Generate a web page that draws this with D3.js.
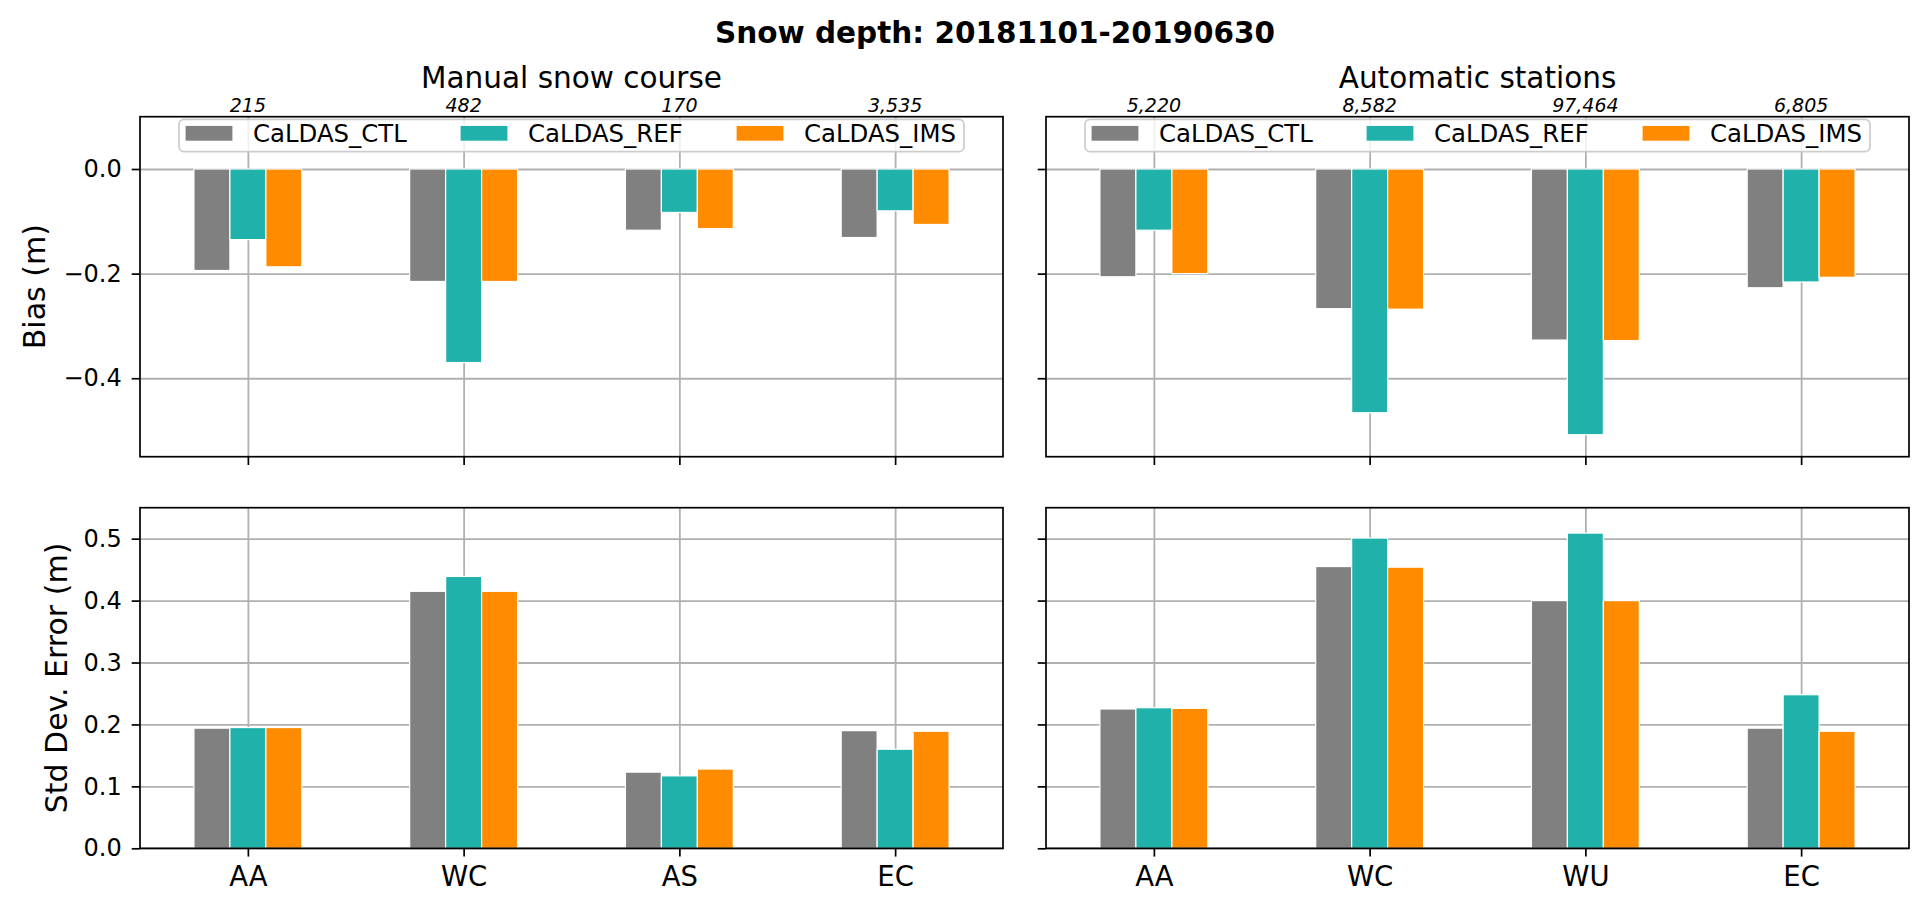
<!DOCTYPE html>
<html>
<head>
<meta charset="utf-8">
<script src="https://cdn.jsdelivr.net/npm/d3@7"></script>
<style>
  html, body { margin: 0; padding: 0; background: #fff; }
  svg { display: block; font-family: "DejaVu Sans", sans-serif; }
</style>
</head>
<body>
<svg id="chart" width="1927" height="910"></svg>
<script>
// ---------------- data ----------------
const suptitle = "Snow depth: 20181101-20190630";
const panelTitles = ["Manual snow course", "Automatic stations"];
const seriesNames = ["CaLDAS_CTL", "CaLDAS_REF", "CaLDAS_IMS"];
const seriesColors = ["#808080", "#20B2AA", "#FF8C00"];

const regionsManual = ["AA", "WC", "AS", "EC"];
const regionsAuto = ["AA", "WC", "WU", "EC"];
const countsManual = [215, 482, 170, 3535];
const countsAuto = [5220, 8582, 97464, 6805];

// Bias (m)
const biasManualCTL = [-0.194, -0.215, -0.117, -0.131];
const biasManualREF = [-0.135, -0.370, -0.083, -0.080];
const biasManualIMS = [-0.187, -0.215, -0.114, -0.106];
const biasAutoCTL = [-0.206, -0.267, -0.327, -0.227];
const biasAutoREF = [-0.117, -0.466, -0.508, -0.216];
const biasAutoIMS = [-0.200, -0.268, -0.328, -0.207];

// Std Dev. Error (m)
const sdeManualCTL = [0.194, 0.415, 0.123, 0.190];
const sdeManualREF = [0.195, 0.439, 0.117, 0.160];
const sdeManualIMS = [0.195, 0.415, 0.128, 0.189];
const sdeAutoCTL = [0.225, 0.455, 0.400, 0.194];
const sdeAutoREF = [0.227, 0.501, 0.509, 0.248];
const sdeAutoIMS = [0.226, 0.454, 0.400, 0.189];

const biasTicks = [-0.4, -0.2, 0.0];
const sdeTicks = [0.0, 0.1, 0.2, 0.3, 0.4, 0.5];
const yLabels = ["Bias (m)", "Std Dev. Error (m)"];

// ---------------- layout ----------------
const svg = d3.select("#chart");
const cols = [{x0: 140, x1: 1003}, {x0: 1046, x1: 1909}];
const rows = [{y0: 116.7, y1: 456.7}, {y0: 507.7, y1: 848.3}];
const barW = 1 / 6;
const offsets = [-barW, 0, barW];
const fmtTick = d3.format(".1f");
const fmtCount = d3.format(",");

const panels = [
  {r: 0, c: 0, regions: regionsManual, data: [biasManualCTL, biasManualREF, biasManualIMS], domain: [-0.55, 0.1], ticks: biasTicks},
  {r: 0, c: 1, regions: regionsAuto, data: [biasAutoCTL, biasAutoREF, biasAutoIMS], domain: [-0.55, 0.1], ticks: biasTicks},
  {r: 1, c: 0, regions: regionsManual, data: [sdeManualCTL, sdeManualREF, sdeManualIMS], domain: [0, 0.55], ticks: sdeTicks},
  {r: 1, c: 1, regions: regionsAuto, data: [sdeAutoCTL, sdeAutoREF, sdeAutoIMS], domain: [0, 0.55], ticks: sdeTicks}
];

// suptitle
svg.append("text").attr("x", 995).attr("y", 43)
  .attr("text-anchor", "middle").attr("font-size", 29.5).attr("font-weight", "bold")
  .text(suptitle);

panels.forEach(p => {
  const col = cols[p.c], row = rows[p.r];
  const x = d3.scaleLinear().domain([-0.5, 3.5]).range([col.x0, col.x1]);
  const y = d3.scaleLinear().domain(p.domain).range([row.y1, row.y0]);
  const g = svg.append("g");

  // grid
  const gridY = g.append("g").attr("transform", `translate(${col.x0},0)`)
    .call(d3.axisLeft(y).tickValues(p.ticks).tickSize(-(col.x1 - col.x0)).tickFormat(""));
  const gridX = g.append("g").attr("transform", `translate(0,${row.y1})`)
    .call(d3.axisBottom(x).tickValues([0, 1, 2, 3]).tickSize(-(row.y1 - row.y0)).tickFormat(""));
  [gridY, gridX].forEach(gg => {
    gg.select(".domain").remove();
    gg.selectAll("line").attr("stroke", "#b0b0b0").attr("stroke-width", 1.8);
  });

  // bars
  p.data.forEach((vals, si) => {
    g.append("g").selectAll("rect").data(vals).join("rect")
      .attr("x", (d, i) => x(i + offsets[si] - barW / 2))
      .attr("width", (d, i) => x(i + offsets[si] + barW / 2) - x(i + offsets[si] - barW / 2))
      .attr("y", d => Math.min(y(0), y(d)))
      .attr("height", d => Math.abs(y(d) - y(0)))
      .attr("fill", seriesColors[si])
      .attr("stroke", "#ffffff").attr("stroke-width", 1.2);
  });

  // spines
  g.append("rect").attr("x", col.x0).attr("y", row.y0)
    .attr("width", col.x1 - col.x0).attr("height", row.y1 - row.y0)
    .attr("fill", "none").attr("stroke", "#000").attr("stroke-width", 1.7);

  // y axis ticks
  const ya = g.append("g").attr("transform", `translate(${col.x0},0)`)
    .call(d3.axisLeft(y).tickValues(p.ticks).tickSize(8.3).tickPadding(10)
      .tickFormat(p.c === 0 ? fmtTick : ""));
  ya.select(".domain").remove();
  ya.selectAll("line").attr("stroke", "#000").attr("stroke-width", 1.7);
  ya.selectAll("text").attr("font-size", 24).attr("font-family", "DejaVu Sans").attr("fill", "#000");

  // x axis ticks
  const xa = g.append("g").attr("transform", `translate(0,${row.y1})`)
    .call(d3.axisBottom(x).tickValues([0, 1, 2, 3]).tickSize(8.3).tickPadding(10)
      .tickFormat(p.r === 1 ? (i => p.regions[i]) : ""));
  xa.select(".domain").remove();
  xa.selectAll("line").attr("stroke", "#000").attr("stroke-width", 1.7);
  xa.selectAll("text").attr("font-size", 27.5).attr("font-family", "DejaVu Sans").attr("fill", "#000");

  if (p.r === 0) {
    // panel title
    svg.append("text").attr("x", (col.x0 + col.x1) / 2).attr("y", 88)
      .attr("text-anchor", "middle").attr("font-size", 29.5)
      .text(panelTitles[p.c]);
    // counts
    const counts = p.c === 0 ? countsManual : countsAuto;
    g.append("g").selectAll("text").data(counts).join("text")
      .attr("x", (d, i) => x(i)).attr("y", 112)
      .attr("text-anchor", "middle").attr("font-size", 19).attr("font-style", "italic")
      .text(d => fmtCount(d));

    // legend
    const lx = (col.x0 + col.x1) / 2 - 392.5;
    const leg = g.append("g");
    leg.append("rect").attr("x", lx).attr("y", 119.3).attr("width", 785).attr("height", 32.4)
      .attr("rx", 5).attr("ry", 5)
      .attr("fill", "#fff").attr("fill-opacity", 0.8)
      .attr("stroke", "#cccccc").attr("stroke-width", 1.7);
    const entryX = [6, 281, 557];
    seriesNames.forEach((name, si) => {
      leg.append("rect").attr("x", lx + entryX[si]).attr("y", 125.3)
        .attr("width", 48).attr("height", 16)
        .attr("fill", seriesColors[si]).attr("stroke", "#fff").attr("stroke-width", 1.2);
      leg.append("text").attr("x", lx + entryX[si] + 68).attr("y", 142)
        .attr("font-size", 24.4).text(name);
    });
  }

  if (p.c === 0) {
    const bx = p.r === 0 ? 45 : 67;
    svg.append("text")
      .attr("transform", `translate(${bx},${(row.y0 + row.y1) / 2}) rotate(-90)`)
      .attr("text-anchor", "middle").attr("font-size", 30)
      .text(yLabels[p.r]);
  }
});
</script>
</body>
</html>
